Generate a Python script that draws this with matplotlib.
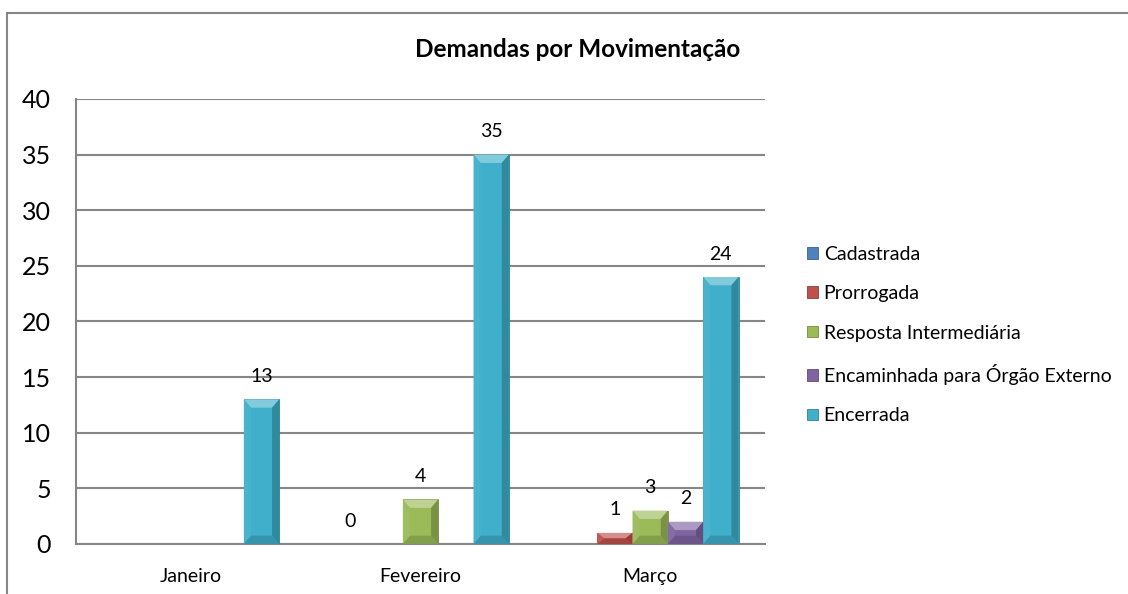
import matplotlib.pyplot as plt
import matplotlib.patches as mpatches
import matplotlib.colors as mcolors
import numpy as np

months = ['Janeiro', 'Fevereiro', 'Março']
series = ['Cadastrada', 'Prorrogada', 'Resposta Intermediária',
          'Encaminhada para Órgão Externo', 'Encerrada']
cadastrada = [None, 0, None]
prorrogada = [None, None, 1]
resposta = [None, 4, 3]
encaminhada = [None, None, 2]
encerrada = [13, 35, 24]
colors = ['#4F81BD', '#C0504D', '#9BBB59', '#8064A2', '#3FAFCB']

plt.rcParams['font.family'] = ['Lato', 'DejaVu Sans']

fig = plt.figure(figsize=(11.28, 5.94), dpi=100)
ax = fig.add_axes([0.0674, 0.0842, 0.6108, 0.7492])

# outer chart border (runs past the right and bottom of the picture)
fig.add_artist(mpatches.Rectangle((7 / 1128, -0.1), 1.2, 1.1 - 13 / 594,
                                  transform=fig.transFigure, fill=False,
                                  edgecolor='#868686', linewidth=1.5))

data = [cadastrada, prorrogada, resposta, encaminhada, encerrada]
n = len(series)
w = 1 / (n + 1.5)
x = np.arange(len(months))


def shade(c, f):
    r, g, b = mcolors.to_rgb(c)
    if f > 0:
        return (r + (1 - r) * f, g + (1 - g) * f, b + (1 - b) * f)
    return (r * (1 + f), g * (1 + f), b * (1 + f))


bev_x = w * 0.2
bev_y = 0.75
for i, (name, vals) in enumerate(zip(series, data)):
    v = np.array([np.nan if a is None else a for a in vals], dtype=float)
    bars = ax.bar(x + (i - 2) * w, v, w, color=colors[i], label=name,
                  edgecolor=shade(colors[i], -0.25), linewidth=0.6, zorder=3)
    for b, val in zip(bars, v):
        if np.isnan(val):
            continue
        ax.text(b.get_x() + b.get_width() / 2, val + 1.3, '%d' % val,
                ha='center', va='bottom', fontsize=14, zorder=5)
        if val <= 0:
            continue
        x0, x1 = b.get_x(), b.get_x() + b.get_width()
        by = min(bev_y, val / 2)
        bx = bev_x
        c = colors[i]
        polys = [
            ([(x0, val), (x1, val), (x1 - bx, val - by), (x0 + bx, val - by)], shade(c, 0.35)),
            ([(x0, 0), (x1, 0), (x1 - bx, by), (x0 + bx, by)], shade(c, -0.15)),
            ([(x0, 0), (x0 + bx, by), (x0 + bx, val - by), (x0, val)], shade(c, 0.05)),
            ([(x1, 0), (x1 - bx, by), (x1 - bx, val - by), (x1, val)], shade(c, -0.22)),
        ]
        for pts, col in polys:
            ax.add_patch(mpatches.Polygon(pts, closed=True, facecolor=col,
                                          edgecolor='none', zorder=4))

ax.set_xlim(-0.5, 2.5)
ax.set_ylim(0, 40)
ax.set_yticks(range(0, 41, 5))
ax.set_xticks(x)
ax.set_xticklabels(months, fontsize=14)
ax.tick_params(axis='y', labelsize=18, length=0, pad=18)
ax.tick_params(axis='x', length=0, pad=17)
ax.yaxis.grid(True, color='#868686', linewidth=1.5, zorder=0)
ax.set_axisbelow(True)
for s in ['top', 'right']:
    ax.spines[s].set_visible(False)
for s in ['left', 'bottom']:
    ax.spines[s].set_color('#868686')
    ax.spines[s].set_linewidth(1.5)

fig.text(0.512, 0.916, 'Demandas por Movimentação', ha='center', va='center',
         fontsize=17.5, fontweight='bold')

fig.legend(loc='center left', bbox_to_anchor=(0.700, 0.436), frameon=False,
           fontsize=14, handlelength=0.55, handleheight=0.55,
           handletextpad=0.3, labelspacing=1.15)

fig.savefig('out.png', dpi=100)
